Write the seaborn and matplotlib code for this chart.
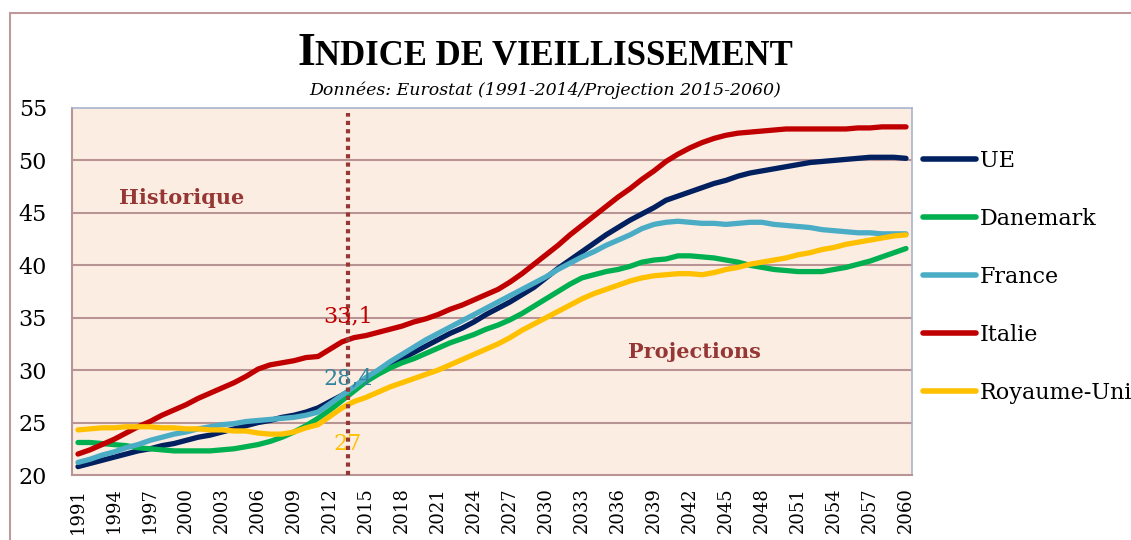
import matplotlib.pyplot as plt
import pandas as pd
import seaborn as sns
import numpy as np
from matplotlib.lines import Line2D

# --- data ---
years = list(range(1991, 2061))

ue = [20.8, 21.1, 21.4, 21.7, 22.0, 22.3, 22.5, 22.8, 23.0, 23.3,
      23.6, 23.8, 24.1, 24.4, 24.7, 25.0, 25.2, 25.5, 25.7, 26.0,
      26.4, 27.0, 27.6, 28.3, 29.0, 29.7, 30.4, 31.1, 31.7, 32.3,
      32.9, 33.5, 34.0, 34.6, 35.3, 35.9, 36.5, 37.2, 37.9, 38.8,
      39.7, 40.5, 41.3, 42.1, 42.9, 43.6, 44.3, 44.9, 45.5, 46.2,
      46.6, 47.0, 47.4, 47.8, 48.1, 48.5, 48.8, 49.0, 49.2, 49.4,
      49.6, 49.8, 49.9, 50.0, 50.1, 50.2, 50.3, 50.3, 50.3, 50.2]

danemark = [23.1, 23.1, 23.0, 22.9, 22.8, 22.6, 22.5, 22.4, 22.3, 22.3,
            22.3, 22.3, 22.4, 22.5, 22.7, 22.9, 23.2, 23.6, 24.1, 24.7,
            25.4, 26.2, 27.1, 28.0, 28.9, 29.6, 30.2, 30.7, 31.1, 31.6,
            32.1, 32.6, 33.0, 33.4, 33.9, 34.3, 34.8, 35.4, 36.1, 36.8,
            37.5, 38.2, 38.8, 39.1, 39.4, 39.6, 39.9, 40.3, 40.5, 40.6,
            40.9, 40.9, 40.8, 40.7, 40.5, 40.3, 40.0, 39.8, 39.6, 39.5,
            39.4, 39.4, 39.4, 39.6, 39.8, 40.1, 40.4, 40.8, 41.2, 41.6]

france = [21.2, 21.5, 21.9, 22.2, 22.6, 22.9, 23.3, 23.6, 23.9, 24.1,
          24.4, 24.6, 24.8, 24.9, 25.1, 25.2, 25.3, 25.4, 25.5, 25.7,
          26.0, 26.8, 27.6, 28.4, 29.3, 30.0, 30.8, 31.5, 32.2, 32.9,
          33.5, 34.1, 34.7, 35.3, 35.9, 36.5, 37.1, 37.7, 38.3, 38.9,
          39.6, 40.2, 40.8, 41.3, 41.9, 42.4, 42.9, 43.5, 43.9, 44.1,
          44.2, 44.1, 44.0, 44.0, 43.9, 44.0, 44.1, 44.1, 43.9, 43.8,
          43.7, 43.6, 43.4, 43.3, 43.2, 43.1, 43.1, 43.0, 43.0, 43.0]

italie = [22.0, 22.4, 22.9, 23.4, 24.0, 24.6, 25.1, 25.7, 26.2, 26.7,
          27.3, 27.8, 28.3, 28.8, 29.4, 30.1, 30.5, 30.7, 30.9, 31.2,
          31.3, 32.0, 32.7, 33.1, 33.3, 33.6, 33.9, 34.2, 34.6, 34.9,
          35.3, 35.8, 36.2, 36.7, 37.2, 37.7, 38.4, 39.2, 40.1, 41.0,
          41.9, 42.9, 43.8, 44.7, 45.6, 46.5, 47.3, 48.2, 49.0, 49.9,
          50.6, 51.2, 51.7, 52.1, 52.4, 52.6, 52.7, 52.8, 52.9, 53.0,
          53.0, 53.0, 53.0, 53.0, 53.0, 53.1, 53.1, 53.2, 53.2, 53.2]

royaume_uni = [24.3, 24.4, 24.5, 24.5, 24.6, 24.6, 24.6, 24.5, 24.5, 24.4,
               24.4, 24.3, 24.3, 24.2, 24.2, 24.0, 23.9, 23.9, 24.1, 24.5,
               24.8, 25.6, 26.4, 27.0, 27.4, 27.9, 28.4, 28.8, 29.2, 29.6,
               30.0, 30.5, 31.0, 31.5, 32.0, 32.5, 33.1, 33.8, 34.4, 35.0,
               35.6, 36.2, 36.8, 37.3, 37.7, 38.1, 38.5, 38.8, 39.0, 39.1,
               39.2, 39.2, 39.1, 39.3, 39.6, 39.8, 40.1, 40.3, 40.5, 40.7,
               41.0, 41.2, 41.5, 41.7, 42.0, 42.2, 42.4, 42.6, 42.8, 42.9]

countries = ["UE", "Danemark", "France", "Italie", "Royaume-Uni"]
colors = ["#002060", "#00B050", "#4BACC6", "#C00000", "#FFC000"]

y_ticks = [20, 25, 30, 35, 40, 45, 50, 55]
x_label_years = years[::3]

# last historical values (2014) written on the chart
labels_2014 = {"Italie": "33,1", "France": "28,4", "Royaume-Uni": "27"}
label_colors = {"Italie": "#C00000", "France": "#31859C", "Royaume-Uni": "#FFC000"}
label_offsets = {"Italie": 2.0, "France": 0.8, "Royaume-Uni": -4.0}

split_year = 2013.5

df = pd.DataFrame({"Année": years * 5,
                   "Indice": ue + danemark + france + italie + royaume_uni,
                   "Pays": sum([[c] * len(years) for c in countries], [])})

# --- style ---
sns.set_style("white")
plt.rcParams["font.family"] = ["DejaVu Serif"]
plt.rcParams["text.color"] = "black"
plt.rcParams["xtick.labelcolor"] = "black"
plt.rcParams["ytick.labelcolor"] = "black"
rosy = "#B89494"

W, H = 1131, 540
fig = plt.figure(figsize=(W / 100, H / 100), dpi=100)
ax = fig.add_axes([72 / W, 1 - 475 / H, (912 - 72) / W, (475 - 108) / H])
ax.set_facecolor("#FCEDE3")

sns.lineplot(data=df, x="Année", y="Indice", hue="Pays", hue_order=countries,
             palette=colors, linewidth=3.8, ax=ax, legend=True)

ax.set_xlim(1990.5, 2060.5)
ax.set_ylim(20, 55)
ax.set_xlabel("")
ax.set_ylabel("")

# grid
for v in y_ticks[1:-1]:
    ax.axhline(v, color=rosy, lw=1.5, zorder=0.5)

# x axis: labels every 3 years, tick marks between categories
ax.set_xticks(x_label_years)
ax.set_xticklabels([str(y) for y in x_label_years], rotation=90, fontsize=13)
ax.set_xticks(np.arange(1990.5, 2061, 1), minor=True)
ax.tick_params(axis="x", which="major", length=0, pad=9)
ax.tick_params(axis="x", which="minor", length=5, width=1.5, color=rosy, direction="out")

ax.set_yticks(y_ticks)
ax.tick_params(axis="y", which="major", length=6, width=1.5, color=rosy, pad=12, labelsize=16)

for s in ["left", "bottom"]:
    ax.spines[s].set_color(rosy)
    ax.spines[s].set_linewidth(1.5)
for s in ["top", "right"]:
    ax.spines[s].set_color("#A8B4D0")
    ax.spines[s].set_linewidth(1.2)

# separation historique / projections
ax.plot([split_year, split_year], [20, 54.5], color="#953735", lw=3,
        linestyle=(0, (1, 1)), zorder=3)

for name, txt in labels_2014.items():
    v = df[(df["Pays"] == name) & (df["Année"] == 2014)]["Indice"].iloc[0]
    ax.text(split_year, v + label_offsets[name], txt, color=label_colors[name],
            fontsize=16, ha="center", va="center", zorder=4)

ax.text(1999.6, 46.4, "Historique", color="#953735", fontsize=15,
        fontweight="bold", ha="center", va="center")
ax.text(2042.4, 31.7, "Projections", color="#953735", fontsize=15,
        fontweight="bold", ha="center", va="center")

# legend
handles, labels = ax.get_legend_handles_labels()
leg = ax.legend(handles, labels, loc="upper left", bbox_to_anchor=(923 / W, 1 - 150 / H),
                bbox_transform=fig.transFigure, frameon=False, fontsize=16,
                handlelength=2.4, handletextpad=0.15, labelspacing=1.62,
                borderpad=0, borderaxespad=0)
for line in leg.get_lines():
    line.set_linewidth(4)
    line.set_solid_capstyle("round")

# title (small caps imitation)
renderer = fig.canvas.get_renderer()
t1 = fig.text(0, 1 - 65 / H, "I", fontsize=33, fontweight="bold",
              family="Liberation Serif", va="baseline", ha="left")
t2 = fig.text(0, 1 - 65 / H, "NDICE DE VIEILLISSEMENT", fontsize=25,
              fontweight="bold", family="Liberation Serif", va="baseline", ha="left")
w1 = t1.get_window_extent(renderer).width
w2 = t2.get_window_extent(renderer).width
x0 = 545 - (w1 + w2) / 2
t1.set_x(x0 / W)
t2.set_x((x0 + w1) / W)

fig.text(545 / W, 1 - 90 / H, "Données: Eurostat (1991-2014/Projection 2015-2060)",
         fontsize=12.5, style="italic", ha="center", va="center")

# chart border
fig.add_artist(Line2D([10 / W, 10 / W], [0, 1 - 13 / H], transform=fig.transFigure,
                      color="#C09A9A", lw=1.5))
fig.add_artist(Line2D([10 / W, 1], [1 - 13 / H, 1 - 13 / H], transform=fig.transFigure,
                      color="#C09A9A", lw=1.5))

fig.savefig("out.png", dpi=100)
